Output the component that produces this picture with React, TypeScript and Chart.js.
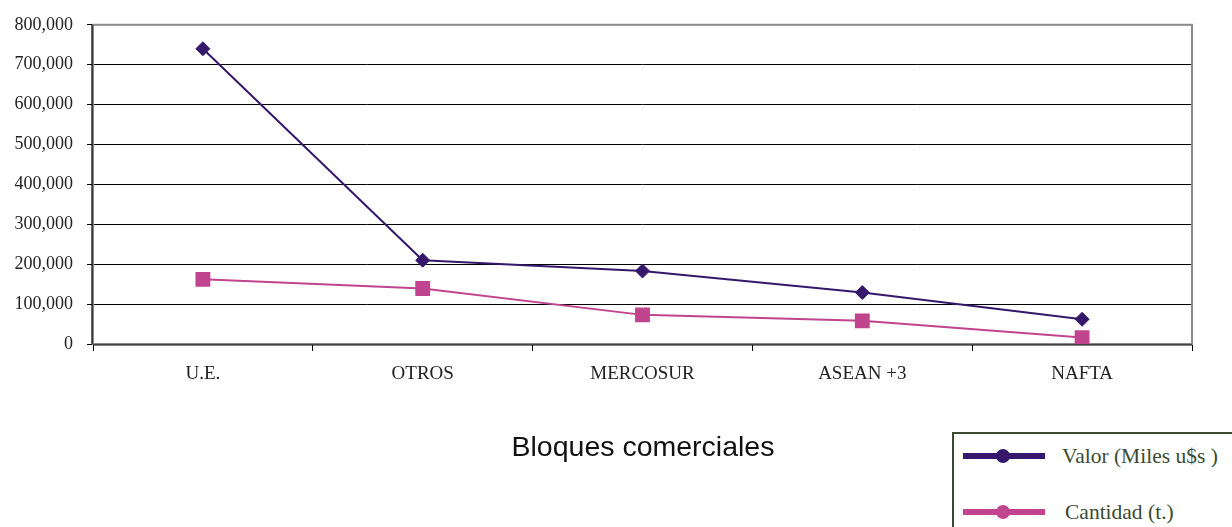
import React, { useEffect, useRef } from "react";
import { Chart, registerables } from "chart.js";

Chart.register(...registerables);

const categories = ["U.E.", "OTROS", "MERCOSUR", "ASEAN +3", "NAFTA"];
const valorMiles = [740000, 210000, 183000, 129000, 62000];
const cantidadT = [162000, 139000, 73000, 58000, 16000];
const yTicks = [0, 100000, 200000, 300000, 400000, 500000, 600000, 700000, 800000];

const VALOR_COLOR = "#35186B";
const CANT_COLOR = "#C1448F";

const frame = {
  id: "frame",
  beforeDatasetsDraw(chart: any) {
    const { ctx, chartArea: a } = chart;
    ctx.save();
    ctx.strokeStyle = "#8a8a8a";
    ctx.lineWidth = 2;
    ctx.strokeRect(a.left, a.top, a.right - a.left, a.bottom - a.top);
    ctx.strokeStyle = "#000";
    ctx.lineWidth = 1.2;
    ctx.beginPath();
    ctx.moveTo(a.left - 1, a.top);
    ctx.lineTo(a.left - 1, a.bottom);
    ctx.moveTo(a.left, a.bottom + 1);
    ctx.lineTo(a.right, a.bottom + 1);
    ctx.stroke();
    ctx.restore();
  },
};

export default function App() {
  const ref = useRef<HTMLCanvasElement>(null);
  useEffect(() => {
    if (!ref.current) return;
    const chart = new Chart(ref.current, {
      type: "line",
      data: {
        labels: categories,
        datasets: [
          {
            label: "Valor (Miles u$s )",
            data: valorMiles,
            borderColor: VALOR_COLOR,
            backgroundColor: VALOR_COLOR,
            borderWidth: 2,
            pointStyle: "rectRot",
            pointRadius: 7,
            pointBorderWidth: 1,
          },
          {
            label: "Cantidad (t.)",
            data: cantidadT,
            borderColor: CANT_COLOR,
            backgroundColor: CANT_COLOR,
            borderWidth: 2,
            pointStyle: "rect",
            pointRadius: 10.5,
            pointBorderWidth: 0,
          },
        ],
      },
      options: {
        responsive: false,
        animation: false,
        layout: { padding: { top: 24, right: 40, left: 0, bottom: 0 } },
        plugins: { legend: { display: false }, tooltip: { enabled: false }, title: { display: false } },
        scales: {
          x: {
            offset: true,
            afterFit: (s: any) => { s.height = 183; },
            grid: { offset: true, drawOnChartArea: false, color: "#000", tickLength: 7, lineWidth: 1 },
            border: { display: false },
            ticks: {
              color: "#222",
              padding: 12,
              font: { family: "Liberation Serif", size: 19 },
            },
          },
          y: {
            min: 0,
            max: 800000,
            afterFit: (s: any) => { s.width = 93; },
            afterBuildTicks: (s: any) => { s.ticks = yTicks.map((v) => ({ value: v })); },
            grid: { color: "#000", lineWidth: 1, tickLength: 6 },
            border: { display: false },
            ticks: {
              color: "#222",
              padding: 14,
              font: { family: "Liberation Serif", size: 18 },
              callback: (v: any) => Number(v).toLocaleString("en-US"),
            },
          },
        },
      },
      plugins: [frame],
    });
    return () => chart.destroy();
  }, []);

  const legendLine = (color: string) => (
    <div style={{ position: "relative", width: 82, height: 6, background: color }}>
      <div
        style={{
          position: "absolute",
          left: 33,
          top: -4,
          width: 14,
          height: 14,
          borderRadius: 7,
          background: color,
        }}
      />
    </div>
  );

  return (
    <div style={{ position: "fixed", left: 0, top: 0, width: 1232, height: 527, background: "#fff", overflow: "hidden" }}>
      <canvas ref={ref} width={1232} height={527} style={{ position: "absolute", left: 0, top: 0 }} />
      <div
        style={{
          position: "absolute",
          left: 0,
          width: 1286,
          top: 430,
          textAlign: "center",
          fontFamily: "Liberation Sans",
          fontSize: 28.5,
          lineHeight: "normal",
          color: "#111",
        }}
      >
        Bloques comerciales
      </div>
      <div
        style={{
          position: "absolute",
          left: 952,
          top: 432,
          width: 300,
          height: 120,
          border: "2px solid #3b4a30",
          boxSizing: "border-box",
          background: "#fff",
        }}
      />
      <div style={{ position: "absolute", left: 963, top: 453 }}>{legendLine(VALOR_COLOR)}</div>
      <div style={{ position: "absolute", left: 963, top: 509 }}>{legendLine(CANT_COLOR)}</div>
      <div
        style={{
          position: "absolute",
          left: 1062,
          top: 444,
          fontFamily: "Liberation Serif",
          fontSize: 21.5,
          lineHeight: "normal",
          color: "#3b4a30",
          whiteSpace: "nowrap",
        }}
      >
        Valor (Miles u$s )
      </div>
      <div
        style={{
          position: "absolute",
          left: 1065,
          top: 500,
          fontFamily: "Liberation Serif",
          fontSize: 21.5,
          lineHeight: "normal",
          color: "#3b4a30",
          whiteSpace: "nowrap",
        }}
      >
        Cantidad (t.)
      </div>
    </div>
  );
}
